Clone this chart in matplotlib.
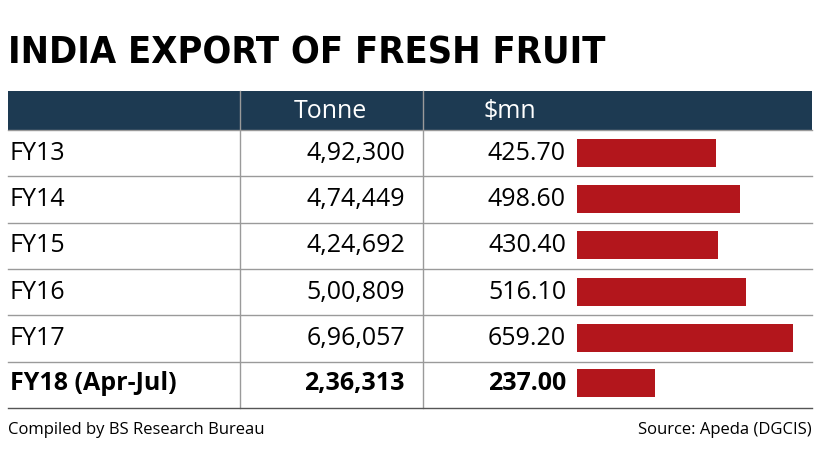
import matplotlib
matplotlib.use("Agg")
import matplotlib.pyplot as plt

years = ["FY13", "FY14", "FY15", "FY16", "FY17", "FY18 (Apr-Jul)"]
tonnes = ["4,92,300", "4,74,449", "4,24,692", "5,00,809", "6,96,057", "2,36,313"]
usd_mn = [425.70, 498.60, 430.40, 516.10, 659.20, 237.00]

NAVY = "#1d3a52"
RED = "#b3161c"
GRID = "#9a9a9a"
BODY = ["Open Sans", "DejaVu Sans"]

fig = plt.figure(figsize=(8.26, 4.65), dpi=100)
ax = fig.add_axes([0, 0, 1, 1])
ax.set_xlim(0, 826)
ax.set_ylim(465, 0)
ax.axis("off")

title = ax.text(8, 54, "INDIA EXPORT OF FRESH FRUIT", fontsize=37, fontweight="bold",
                family="DejaVu Sans", fontstretch="condensed", va="center", ha="left")
# no narrow font installed: shrink the title until it spans the reference width
fig.canvas.draw()
w = title.get_window_extent(fig.canvas.get_renderer()).width
title.set_fontsize(37 * 597 / w)

# header band
ax.add_patch(plt.Rectangle((8, 91), 804, 39, color=NAVY, lw=0))
ax.text(330, 111, "Tonne", color="white", fontsize=18, family=BODY, ha="center", va="center")
ax.text(510, 111, "$mn", color="white", fontsize=18, family=BODY, ha="center", va="center")

row_y = [153, 199, 245, 292, 338, 383]
for sep in (240, 423):
    ax.plot([sep, sep], [91, 408], color=GRID, lw=1)
for i in range(len(years) + 1):
    y = 130 + i * 46.3
    ax.plot([8, 812], [y, y], color=GRID if i < len(years) else "#555555", lw=1)

scale = 216 / max(usd_mn)
ax.barh(row_y, [v * scale for v in usd_mn], left=577, height=28, color=RED)

for i, y in enumerate(row_y):
    bold = "bold" if i == len(years) - 1 else "normal"
    ax.text(10, y, years[i], fontsize=18, family=BODY, fontweight=bold, va="center")
    ax.text(405, y, tonnes[i], fontsize=18, family=BODY, fontweight=bold, va="center", ha="right")
    ax.text(566, y, f"{usd_mn[i]:.2f}", fontsize=18, family=BODY, fontweight=bold,
            va="center", ha="right")

ax.text(8, 430, "Compiled by BS Research Bureau", fontsize=12, family=BODY, va="center")
ax.text(812, 430, "Source: Apeda (DGCIS)", fontsize=12, family=BODY, va="center", ha="right")

fig.savefig("out.png", dpi=100)
